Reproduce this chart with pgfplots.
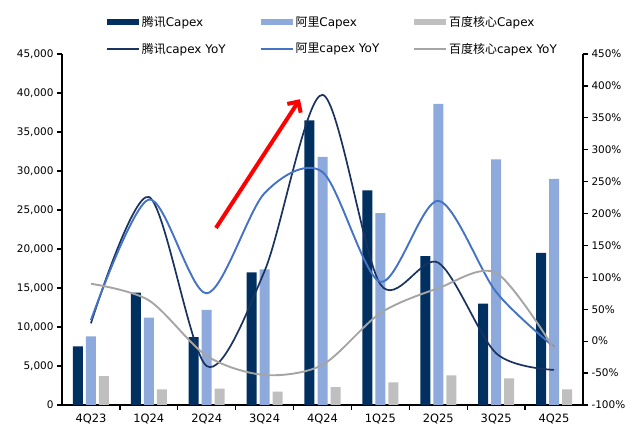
\documentclass[border=0pt]{standalone}
\usepackage{pgfplots}
\pgfplotsset{compat=1.18}
\usepackage{fontspec}
\setmainfont{DejaVu Sans}
\newfontfamily\cjk{Noto Sans CJK SC}
\usetikzlibrary{arrows.meta}

\definecolor{navybar}{RGB}{0,48,96}
\definecolor{lbbar}{RGB}{142,169,219}
\definecolor{graybar}{RGB}{191,191,191}
\definecolor{navyline}{RGB}{25,50,95}
\definecolor{blueline}{RGB}{68,114,196}
\definecolor{grayline}{RGB}{165,165,165}

\pgfplotsset{
  barleg/.style={legend image code/.code={\fill[##1,draw=none] (0bp,-3bp) rectangle (32bp,3bp);}},
  lineleg/.style={legend image code/.code={\draw[##1] (0bp,0bp) -- (32bp,0bp);}},
  every axis/.append style={
    scale only axis, width=521bp, height=351bp,
    xmin=-0.5, xmax=8.5,
    tick align=outside,
    /pgf/number format/assume math mode=true,
    tick label style={font=\fontsize{10.5}{12}\selectfont},
    axis line style={line width=1.3bp,-},
    tick style={line width=1.3bp,black},
    major tick length=5bp, minor tick length=5bp,
  },
}

\begin{document}
\begin{tikzpicture}
\begin{axis}[
  ymin=0, ymax=45000, ytick={0,5000,...,45000},
  scaled y ticks=false,
  axis x line*=bottom, axis y line*=left,
  xtick={0,...,8},
  xticklabels={4Q23,1Q24,2Q24,3Q24,4Q24,1Q25,2Q25,3Q25,4Q25},
  x tick label style={font=\fontsize{11.5}{13}\selectfont},
  minor xtick={0.5,1.5,...,7.5},
  major x tick style={draw=none},
  ybar=3bp, bar width=10bp,
]
% 腾讯 Capex
\addplot[fill=navybar, draw=none] coordinates {
  (0,7500) (1,14400) (2,8700) (3,17000) (4,36500) (5,27500) (6,19100) (7,13000) (8,19500)
};
% 阿里 Capex
\addplot[fill=lbbar, draw=none] coordinates {
  (0,8800) (1,11200) (2,12200) (3,17400) (4,31800) (5,24600) (6,38600) (7,31500) (8,29000)
};
% 百度核心 Capex
\addplot[fill=graybar, draw=none] coordinates {
  (0,3700) (1,2000) (2,2100) (3,1700) (4,2300) (5,2900) (6,3800) (7,3400) (8,2000)
};
\coordinate (bl) at (rel axis cs:0,0);
\coordinate (tr) at (rel axis cs:1,1);
\draw[red, line width=4bp, -{Straight Barb[length=8bp,width=16bp]}]
  (axis cs:2.16,22700) -- (axis cs:3.61,39200);
\end{axis}

\begin{axis}[
  ymin=-100, ymax=450, ytick={-100,-50,...,450},
  axis y line*=right, axis x line=none,
  yticklabel={\pgfmathprintnumber{\tick}\%},
  legend columns=3, legend cell align=left,
  legend style={draw=none, fill=none, anchor=north west, at={(0.0845,1.113)},
    font=\fontsize{12}{14}\selectfont, inner sep=0pt, row sep=11bp,
    /tikz/every even column/.append style={column sep=32bp}},
]
\addlegendimage{barleg, fill=navybar}
\addlegendentry{{\cjk 腾讯}Capex}
\addlegendimage{barleg, fill=lbbar}
\addlegendentry{{\cjk 阿里}Capex}
\addlegendimage{barleg, fill=graybar}
\addlegendentry{{\cjk 百度核心}Capex}
% 腾讯 capex YoY
\addplot[navyline, line width=1.7bp, smooth, lineleg] coordinates {
  (0,28) (1,226) (2,-39) (3,110) (4,386) (5,89) (6,123) (7,-19) (8,-45)
};
\addlegendentry{{\cjk 腾讯}capex YoY}
% 阿里 capex YoY
\addplot[blueline, line width=1.9bp, smooth, lineleg] coordinates {
  (0,33) (1,222) (2,75) (3,232) (4,265) (5,93) (6,220) (7,77) (8,-9)
};
\addlegendentry{{\cjk 阿里}capex YoY}
% 百度核心 capex YoY
\addplot[grayline, line width=1.9bp, smooth, lineleg] coordinates {
  (0,90) (1,64) (2,-23) (3,-53) (4,-37) (5,44) (6,83) (7,107) (8,-12)
};
\addlegendentry{{\cjk 百度核心}capex YoY}
\end{axis}
\pgfresetboundingbox
\path ([xshift=-62bp,yshift=-23bp]bl) rectangle ([xshift=49bp,yshift=54bp]tr);
\end{tikzpicture}
\end{document}
